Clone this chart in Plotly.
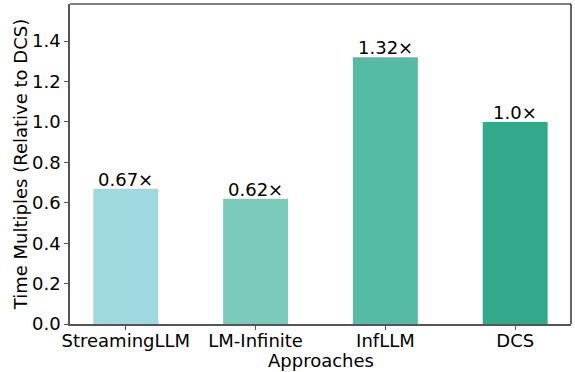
import plotly.graph_objects as go

approaches = ["StreamingLLM", "LM-Infinite", "InfLLM", "DCS"]
time_multiples = [0.67, 0.62, 1.32, 1.0]
value_labels = ["0.67×", "0.62×", "1.32×", "1.0×"]
bar_colors = ["#A0D8E0", "#7BCBBB", "#56BBA4", "#33A98C"]
y_ticks = [0.0, 0.2, 0.4, 0.6, 0.8, 1.0, 1.2, 1.4]

font_family = "DejaVu Sans"
font_size = 18

fig = go.Figure(
    go.Bar(
        x=list(range(len(approaches))),
        y=time_multiples,
        width=0.5,
        marker=dict(color=bar_colors, line=dict(width=0)),
        hoverinfo="skip",
    )
)

# value labels just above each bar
for i, (v, lbl) in enumerate(zip(time_multiples, value_labels)):
    fig.add_annotation(
        x=i, y=v, text=lbl, showarrow=False,
        yanchor="bottom", yshift=-3,
        font=dict(family=font_family, size=font_size, color="black"),
    )

# x-axis title
fig.add_annotation(
    x=0.5, xref="paper", y=0, yref="paper", text="Approaches",
    showarrow=False, xanchor="center", yanchor="top", yshift=-24,
    font=dict(family=font_family, size=font_size, color="black"),
)

fig.update_layout(
    width=575,
    height=372,
    margin=dict(l=70, r=4, t=4, b=48),
    paper_bgcolor="white",
    plot_bgcolor="white",
    showlegend=False,
    font=dict(family=font_family, size=font_size, color="black"),
)

fig.update_xaxes(
    range=[-0.43, 3.43],
    tickmode="array",
    tickvals=list(range(len(approaches))),
    ticktext=approaches,
    ticks="outside",
    ticklen=4,
    tickcolor="#555555",
    ticklabelstandoff=-4,
    showline=True,
    linecolor="#555555",
    linewidth=1.5,
    showgrid=False,
    zeroline=False,
    tickfont=dict(size=font_size),
)

fig.update_yaxes(
    range=[0, 1.584],
    tickmode="array",
    tickvals=y_ticks,
    ticktext=[f"{v:.1f}" for v in y_ticks],
    ticks="outside",
    ticklen=4,
    tickcolor="#555555",
    showline=True,
    linecolor="#555555",
    linewidth=1.5,
    showgrid=False,
    zeroline=False,
    tickfont=dict(size=font_size),
    title=dict(text="Time Multiples (Relative to DCS)", font=dict(size=font_size), standoff=0),
)

# top and right frame edges
fig.add_shape(type="line", xref="paper", yref="paper", x0=0, x1=1, y0=1, y1=1,
              line=dict(color="black", width=1.2))
fig.add_shape(type="line", xref="paper", yref="paper", x0=1, x1=1, y0=0, y1=1,
              line=dict(color="black", width=1.2))

fig.write_html("out.html")
